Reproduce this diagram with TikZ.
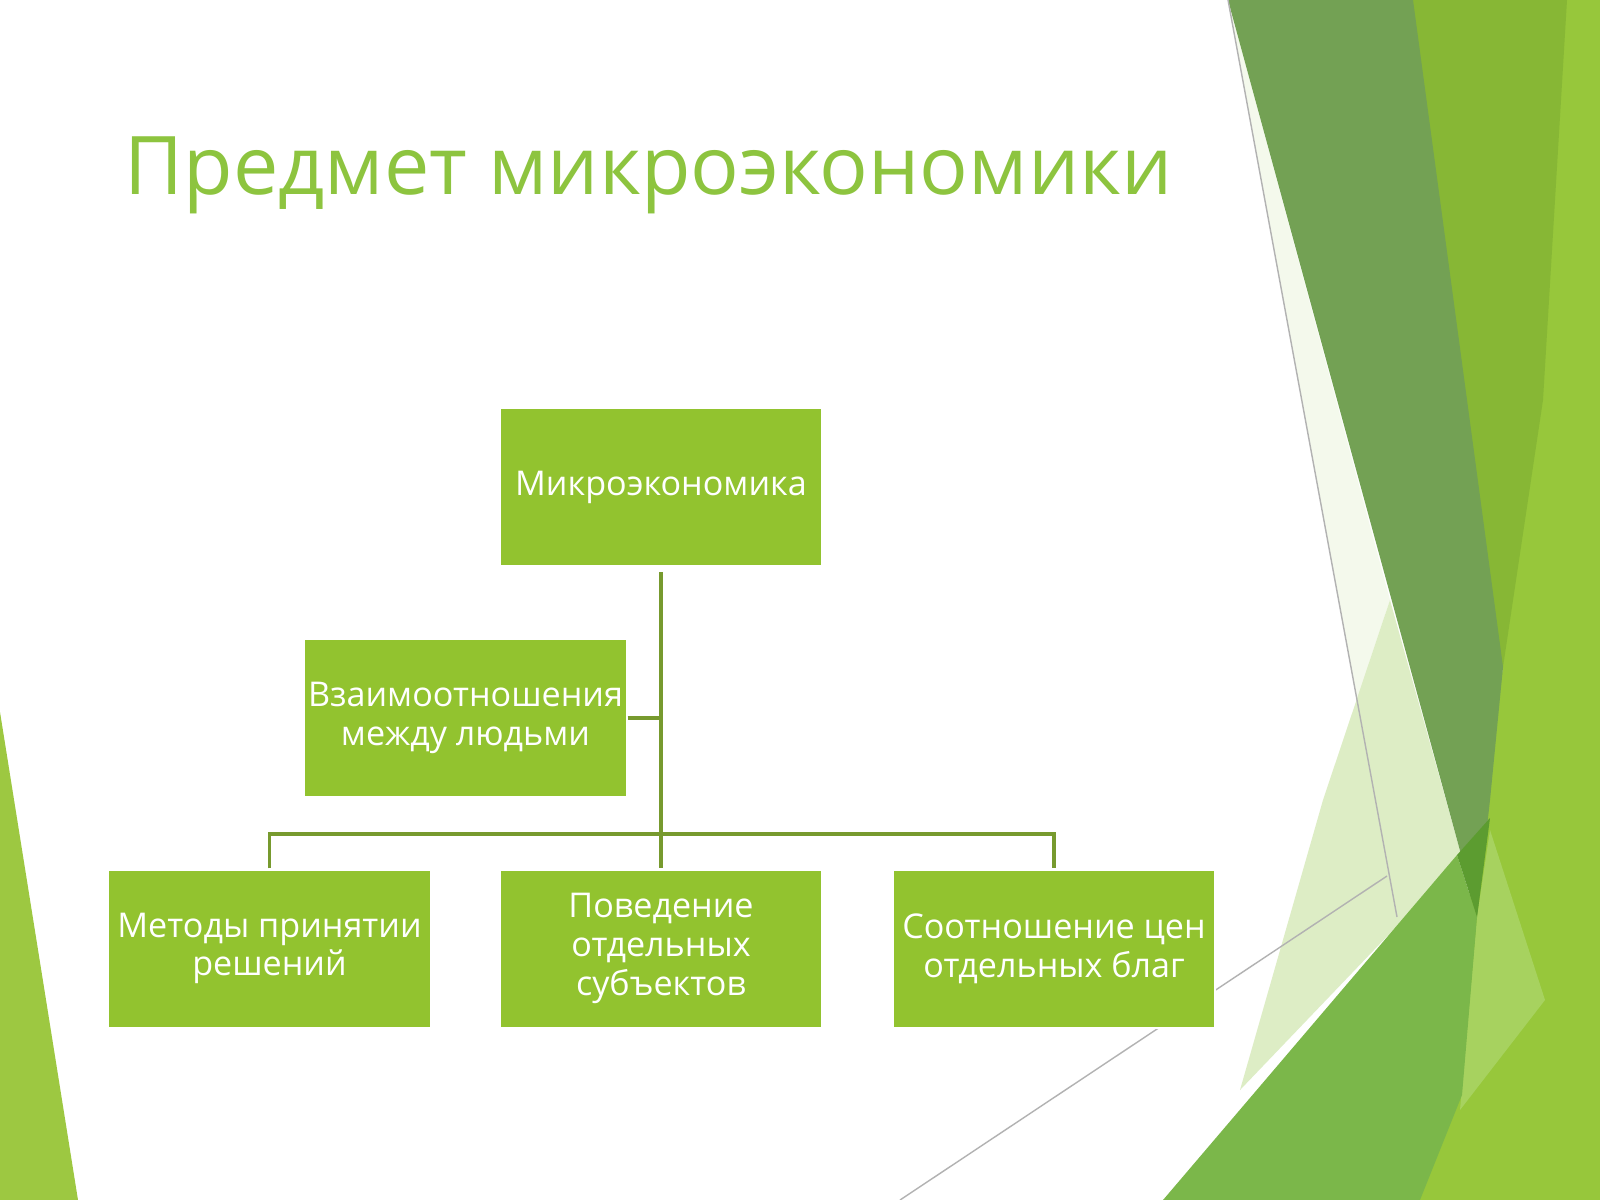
\documentclass[tikz,border=0pt]{standalone}
\usepackage{fontspec}
\setmainfont{Open Sans}
\definecolor{titlegreen}{HTML}{8DC43F}
\definecolor{boxgreen}{HTML}{92C32F}
\definecolor{linegreen}{HTML}{779A2E}
\definecolor{bandgreen}{HTML}{73A154}
\definecolor{yelgreen}{HTML}{87B735}
\definecolor{ltgreen}{HTML}{97C73B}
\definecolor{midgreen}{HTML}{7BB74A}
\definecolor{darkgreen}{HTML}{5C9C30}
\definecolor{palegreen}{HTML}{DDEDC5}
\definecolor{faintgreen}{HTML}{F4F9EC}
\definecolor{lightstrip}{HTML}{A7D25F}
\definecolor{leftgreen}{HTML}{9DC841}
\tikzset{
  orgbox/.style={rectangle, fill=boxgreen, draw=white, line width=0.6pt,
    minimum width=3.22cm, minimum height=1.58cm, inner sep=1pt,
    text=white, align=center, font=\fontsize{9.7}{11}\selectfont},
  conn/.style={draw=linegreen, line width=0.9pt},
  thinline/.style={draw=black!30, line width=0.4pt}
}
\begin{document}
\begin{tikzpicture}[x=0.01cm,y=-0.01cm]
\useasboundingbox (0,0) rectangle (1600,1200);
\fill[white] (0,0) rectangle (1600,1200);
% decorative background
\fill[leftgreen] (0,712) -- (78,1200) -- (0,1200) -- cycle;
\fill[faintgreen] (1228,0) -- (1390,600) -- (1357,700) -- cycle;
\fill[ltgreen] (1395,0) -- (1600,0) -- (1600,1200) -- (1400,1200) -- (1470,900) -- (1503,667) -- cycle;
\fill[yelgreen] (1400,0) -- (1567,0) -- (1543,400) -- (1503,667) -- (1470,900) -- cycle;
\fill[palegreen] (1390,600) -- (1462,858) -- (1240,1090) -- (1323,800) -- cycle;
\fill[bandgreen] (1228,0) -- (1413,0) -- (1467,400) -- (1503,667) -- (1490,800) -- (1477,917) -- (1462,858) -- cycle;
\fill[lightstrip] (1490,830) -- (1545,1000) -- (1460,1110) -- (1477,917) -- cycle;
\fill[midgreen] (1163,1200) -- (1457,855) -- (1477,917) -- (1462,1095) -- (1420,1200) -- cycle;
\fill[darkgreen] (1457,855) -- (1490,818) -- (1477,917) -- cycle;
\draw[thinline] (1228,0) -- (1397,917);
\draw[thinline] (900,1200) -- (1387,876);
% title
\node[anchor=base west, inner sep=0pt, text=titlegreen, font=\fontsize{23}{27}\selectfont] (title) at (124,194) {Предмет микроэкономики};
% boxes
\node[orgbox] (top) at (661,487) {Микроэкономика};
\node[orgbox] (rel) at (465.5,718) {Взаимоотношения\\между людьми};
\node[orgbox] (bl) at (269.5,948.5) {Методы принятии\\решений};
\node[orgbox] (bm) at (661,948.5) {Поведение\\отдельных\\субъектов};
\node[orgbox] (br) at (1054,948.5) {Соотношение цен\\отдельных благ};
\coordinate (j) at (661,834);
% connectors
\draw[conn, shorten <=1.5pt] (top.south) -- (bm.north);
\draw[conn] (bl.north) -- (bl.north |- j) -- (br.north |- j) -- (br.north);
\draw[conn] (rel.east) -- (rel.east -| top.south);
\end{tikzpicture}
\end{document}
